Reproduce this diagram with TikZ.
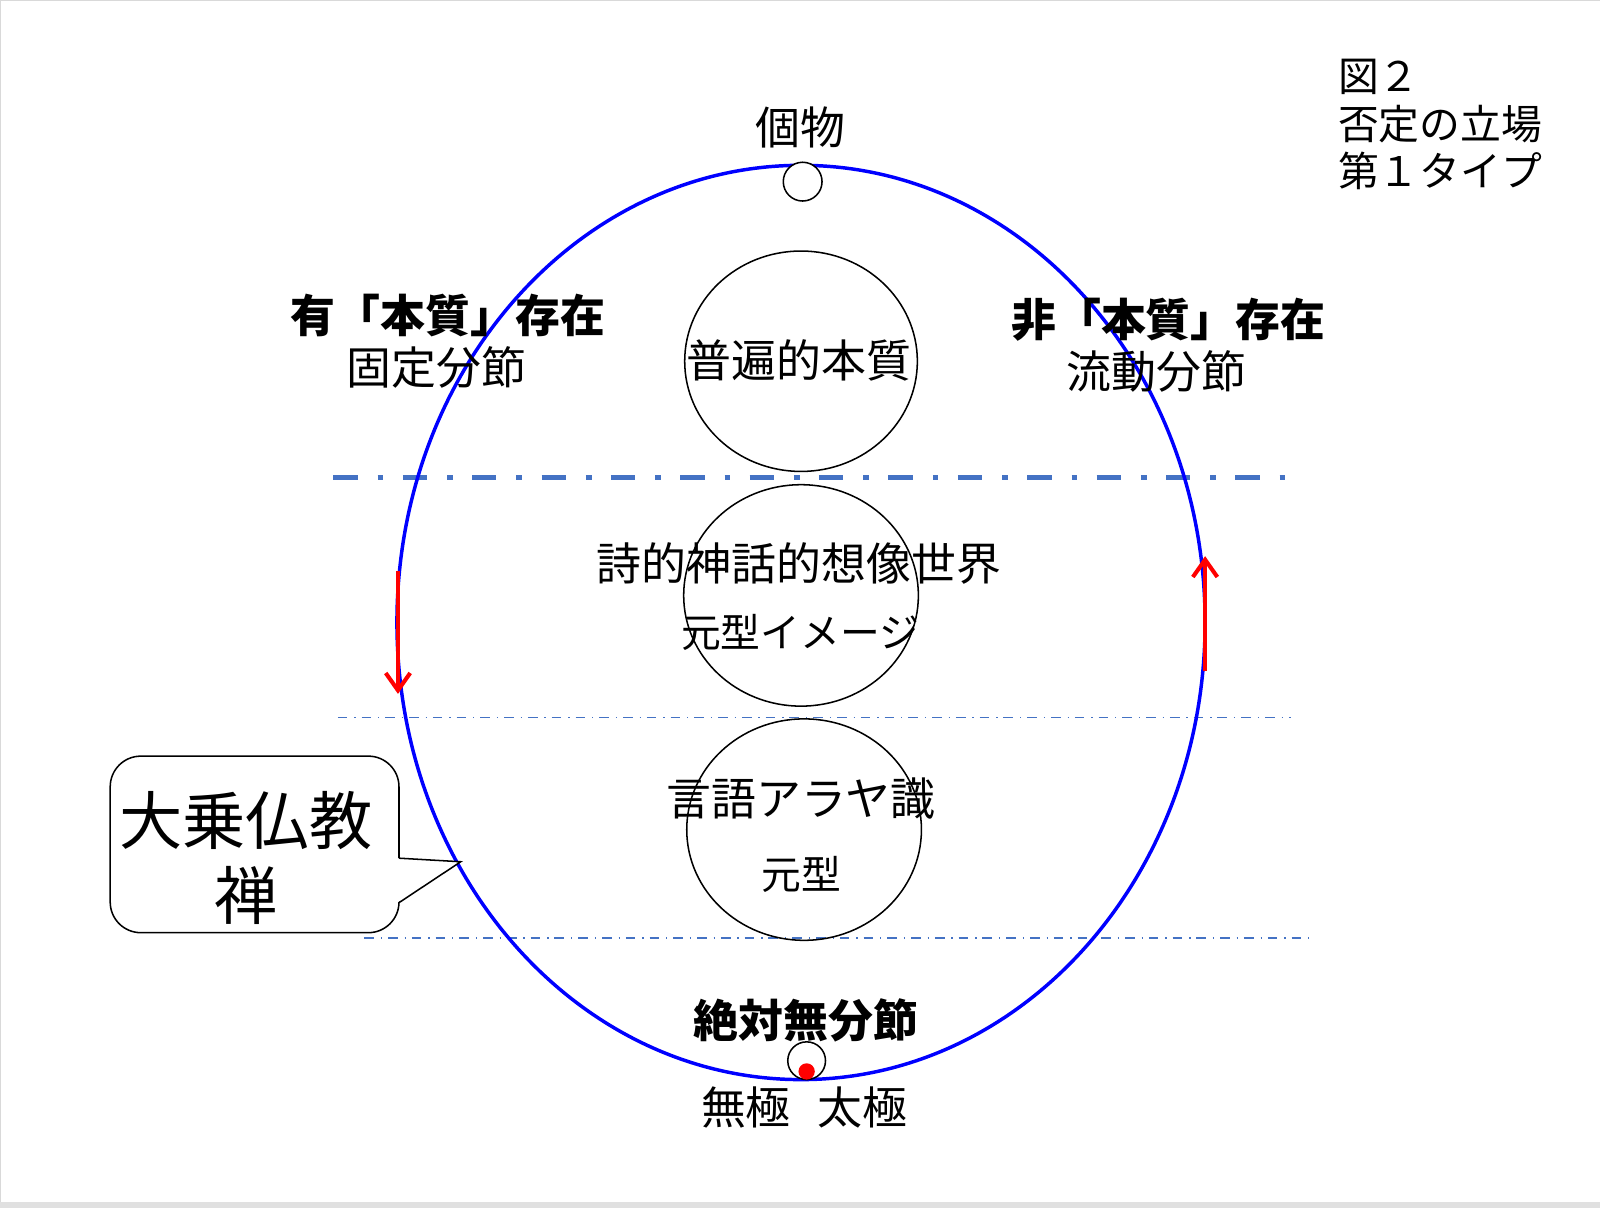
\documentclass[tikz,border=0pt]{standalone}
\usepackage{fontspec}
\setmainfont{Noto Sans CJK JP}
\usetikzlibrary{arrows.meta,shapes.geometric}
\definecolor{dashblue}{HTML}{4472C4}
\definecolor{framegray}{HTML}{E0E0E0}
\definecolor{bordergray}{HTML}{D9D9D9}
\begin{document}
\begin{tikzpicture}[x=0.5pt,y=-0.5pt,
  lbl/.style={inner sep=0pt, font=\fontsize{22pt}{26pt}\selectfont},
  lblsmall/.style={inner sep=0pt, font=\fontsize{19.5pt}{23pt}\selectfont},
  lblbold/.style={inner sep=0pt, font=\fontsize{22pt}{26pt}\selectfont\bfseries},
  ring/.style={ellipse, draw=black, line width=0.75pt, inner sep=0pt, outer sep=0pt},
  dot/.style={circle, draw=black, line width=0.75pt, inner sep=0pt, outer sep=0pt},
  thickdash/.style={draw=dashblue, line width=2.5pt, dash pattern=on 11.9pt off 9.8pt on 2.8pt off 9.5pt},
  thindash/.style={draw=dashblue, line width=0.8pt, dash pattern=on 4.7pt off 3.4pt on 0.65pt off 2.9pt},
  redarrow/.style={draw=red, line width=1.8pt, -{Straight Barb[length=8.5pt,width=12pt,line width=2pt]}}
]
\useasboundingbox (0,0) rectangle (1568,1184);
% frame
\fill[white] (0,0) rectangle (1568,1184);
\fill[framegray] (0,1177.8) rectangle (1568,1184);
\draw[bordergray, line width=0.6pt] (0.6,1177.8) -- (0.6,0.6) -- (1568,0.6);

% dividing lines
\coordinate (d1a) at (326.7,468); \coordinate (d1b) at (1268,468);
\coordinate (d2a) at (331,703.3); \coordinate (d2b) at (1265,703.3);
\coordinate (d3a) at (357,919.5); \coordinate (d3b) at (1286,919.5);
\draw[thickdash] (d1a) -- (d1b);
\draw[thindash] (d2a) -- (d2b);
\draw[thindash] (d3a) -- (d3b);

% inner circles
\node[ring, minimum width=114pt, minimum height=108pt] (c1) at (785,354) {};
\node[ring, minimum width=115pt, minimum height=108.5pt] (c2) at (785,583.5) {};
\node[ring, minimum width=115pt, minimum height=108.5pt] (c3) at (788,813) {};

% big ellipse
\node[ellipse, draw=blue, line width=1.7pt, inner sep=0pt, minimum width=396pt, minimum height=448pt] (big) at (785,610) {};

% small circles
\node[dot, fill=white, minimum size=19pt] (top) at (786.6,178) {};
\node[dot, minimum size=18.5pt] (bot) at (790.5,1039.5) {};
\node[circle, fill=red, inner sep=0pt, minimum size=8pt] (reddot) at (790.5,1050) {};

% red arrows
\coordinate (la) at (390,560); \coordinate (lb) at (390,680);
\coordinate (ra) at (1181,658); \coordinate (rb) at (1181,545);
\draw[redarrow] (la) -- (lb);
\draw[redarrow] (ra) -- (rb);

% callout
\draw[line width=0.75pt, rounded corners=15pt] (108,741) rectangle (391,914);
\coordinate (tailtop) at (391,841);
\coordinate (tailtip) at (451.5,844.5);
\coordinate (tailbot) at (391,884.6);
\fill[white] (389.5,841) -- (tailtip) -- (389.5,884.6) -- cycle;
\draw[line width=0.75pt, line join=miter] (tailtop) -- (tailtip) -- (tailbot);
\node[align=center, inner sep=0pt, font=\fontsize{31pt}{36.5pt}\selectfont] (zen) at (241,841) {大乗仏教\\禅};

% texts
\node[lbl] (kobutsu) at (784,125) {個物};
\node[align=left, anchor=west, inner sep=0pt, font=\fontsize{20pt}{23.25pt}\selectfont] (title) at (1311,122) {図２\\否定の立場\\第１タイプ};
\node[lblbold] (yu) at (439,309) {有「本質」存在};
\node[lbl] (kotei) at (428,360) {固定分節};
\node[lblbold] (hi) at (1145,313) {非「本質」存在};
\node[lbl] (ryudo) at (1133,364) {流動分節};
\node[lbl] (fuhen) at (783,353) {普遍的本質};
\node[lbl] (shiteki) at (783,552) {詩的神話的想像世界};
\node[lblsmall] (genkeiimage) at (784,620) {元型イメージ};
\node[lbl] (gengo) at (785,783) {言語アラヤ識};
\node[lblsmall] (genkei) at (785,857) {元型};
\node[lblbold] (zettai) at (790,1000) {絶対無分節};
\node[lbl] (mukyoku) at (788,1085) {無極\hspace{13pt}太極};
\end{tikzpicture}
\end{document}
